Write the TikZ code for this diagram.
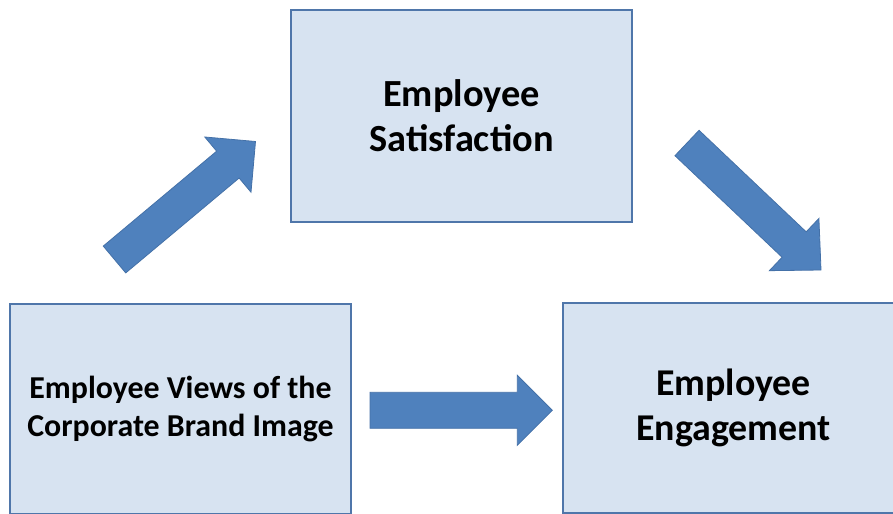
\documentclass[tikz,border=0pt]{standalone}
\usepackage{fontspec}
\setmainfont{Carlito}
\usetikzlibrary{calc}
\definecolor{boxfill}{HTML}{D7E3F1}
\definecolor{boxline}{HTML}{4F76AA}
\definecolor{arrfill}{HTML}{4F81BD}
\definecolor{arrline}{HTML}{4471A8}
\tikzset{
  box/.style={draw=boxline, line width=1.6bp, fill=boxfill, rectangle,
    minimum width=341bp, minimum height=210bp, inner sep=0pt, align=center,
    font=\bfseries},
  blockarr/.style={fill=arrfill, draw=arrline, line width=0.8bp, line join=miter}
}
% #1 tail, #2 tip, #3 half shaft, #4 half head, #5 head length
\newcommand{\myblockarrow}[5]{%
  \coordinate (J) at ($(#2)!#5!(#1)$);
  \draw[blockarr] ($(#1)!#3!90:(#2)$) -- ($(J)!#3!90:(#2)$) -- ($(J)!#4!90:(#2)$)
    -- (#2) -- ($(J)!#4!-90:(#2)$) -- ($(J)!#3!-90:(#2)$) -- ($(#1)!#3!-90:(#2)$) -- cycle;
}
\begin{document}
\begin{tikzpicture}[x=1bp,y=-1bp]
\useasboundingbox (0,0) rectangle (893,514);
\clip (0,0) rectangle (893,514);
\fill[white] (0,0) rectangle (893,514);
\node[box, minimum height=212bp, font=\bfseries\fontsize{38.5}{45}\selectfont] (sat) at (461.5,116) {Employee\\Satisfaction};
\node[box, font=\bfseries\fontsize{32}{39}\selectfont] (views) at (180.5,409) {Employee Views of the\\Corporate Brand Image};
\node[box, font=\bfseries\fontsize{38}{45}\selectfont] (eng) at (733.5,408) {Employee\\Engagement};
\coordinate (a1t) at (114.5,259.5);
\coordinate (a1h) at (255.5,141.5);
\coordinate (a2t) at (687,143);
\coordinate (a2h) at (821,270);
\coordinate (a3t) at (370,410.3);
\coordinate (a3h) at (552.3,410.3);
\myblockarrow{a1t}{a1h}{17.5bp}{36bp}{36bp}
\myblockarrow{a2t}{a2h}{17.5bp}{36bp}{37bp}
\myblockarrow{a3t}{a3h}{18bp}{35bp}{35bp}
\end{tikzpicture}
\end{document}
